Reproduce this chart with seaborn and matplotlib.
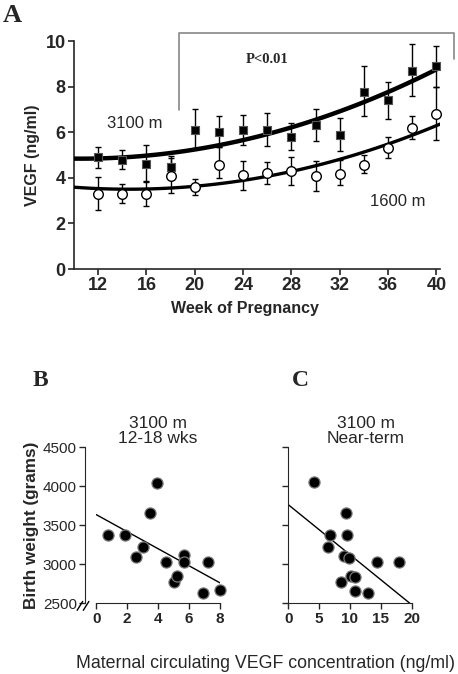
import numpy as np
import pandas as pd
import matplotlib
matplotlib.use("Agg")
import matplotlib.pyplot as plt
import seaborn as sns

sns.set_style("ticks")
plt.rcParams["font.family"] = ["Liberation Sans", "DejaVu Sans"]

# ---------------- data ----------------
weeks = [12, 14, 16, 18, 20, 22, 24, 26, 28, 30, 32, 34, 36, 38, 40]

# 3100 m (filled squares): mean, lower and upper ends of error bars
v3100 = [4.9, 4.78, 4.6, 4.49, 6.1, 6.0, 6.1, 6.1, 5.79, 6.3, 5.88, 7.78, 7.41, 8.67, 8.89]
lo3100 = [4.44, 4.37, 3.8, 4.05, 5.3, 5.37, 5.44, 5.4, 5.22, 5.6, 5.19, 6.71, 6.59, 7.59, 8.0]
hi3100 = [5.37, 5.22, 5.44, 4.95, 7.03, 6.71, 6.75, 6.83, 6.42, 7.0, 6.64, 8.89, 8.22, 9.85, 9.8]

# 1600 m (open circles)
v1600 = [3.27, 3.27, 3.27, 4.09, 3.58, 4.58, 4.11, 4.2, 4.3, 4.09, 4.18, 4.58, 5.29, 6.2, 6.78]
lo1600 = [2.59, 2.88, 2.76, 3.33, 3.25, 4.0, 3.46, 3.71, 3.67, 3.42, 3.67, 4.22, 4.85, 5.69, 5.64]
hi1600 = [4.02, 3.73, 3.85, 4.85, 3.93, 5.37, 4.74, 4.68, 4.93, 4.75, 4.78, 5.0, 5.77, 6.71, 8.0]

# panel B: 3100 m, 12-18 wks
b_vegf = [0.78, 1.85, 2.54, 3.04, 3.47, 3.94, 4.48, 5.02, 5.24, 5.69, 5.69, 6.88, 7.24, 8.0]
b_bw = [3376, 3376, 3090, 3226, 3662, 4047, 3034, 2769, 2855, 3120, 3034, 2637, 3034, 2671]

# panel C: 3100 m, near-term
c_vegf = [4.22, 6.76, 6.49, 9.30, 9.57, 9.08, 9.84, 8.54, 10.1, 10.8, 10.8, 12.86, 14.4, 17.9]
c_bw = [4058, 3371, 3221, 3659, 3371, 3105, 3079, 2770, 2856, 2835, 2663, 2629, 3028, 3028]

dfA = pd.DataFrame({"week": weeks, "v3100": v3100, "v1600": v1600})
dfB = pd.DataFrame({"vegf": b_vegf, "bw": b_bw})
dfC = pd.DataFrame({"vegf": c_vegf, "bw": c_bw})

W, H = 458, 674
fig = plt.figure(figsize=(W / 100, H / 100), dpi=100)


def box(l, t, r, b):
    return [l / W, 1 - b / H, (r - l) / W, (b - t) / H]


serif = ["Liberation Serif", "DejaVu Serif"]

# ---------------- panel A ----------------
axA = fig.add_axes(box(74, 41, 440, 269))
axA.set_xlim(10, 40.3)
axA.set_ylim(0, 10)

sns.regplot(data=dfA, x="week", y="v3100", order=2, ci=None, scatter=False,
            truncate=False, ax=axA, line_kws=dict(color="black", lw=3.2, zorder=3))
sns.regplot(data=dfA, x="week", y="v1600", order=2, ci=None, scatter=False,
            truncate=False, ax=axA, line_kws=dict(color="black", lw=2.4, zorder=3))

e3 = [np.array(v3100) - np.array(lo3100), np.array(hi3100) - np.array(v3100)]
e1 = [np.array(v1600) - np.array(lo1600), np.array(hi1600) - np.array(v1600)]
axA.errorbar(weeks, v3100, yerr=e3, fmt="none", ecolor="black", elinewidth=1.0,
             capsize=2.5, capthick=1.0, zorder=2, clip_on=False)
axA.errorbar(weeks, v1600, yerr=e1, fmt="none", ecolor="black", elinewidth=1.0,
             capsize=2.5, capthick=1.0, zorder=2, clip_on=False)
sns.scatterplot(data=dfA, x="week", y="v3100", marker="s", s=36, color="black",
                edgecolor="#555555", linewidth=0.8, ax=axA, zorder=4, clip_on=False)
sns.scatterplot(data=dfA, x="week", y="v1600", marker="o", s=48, color="white",
                edgecolor="black", linewidth=1.0, ax=axA, zorder=4, clip_on=False)

# significance bracket
axA.plot([18.7, 18.7, 41.5, 41.5], [6.97, 10.35, 10.35, 9.2], color="#888888",
         lw=1.2, clip_on=False, zorder=1)
axA.text(26.0, 9.2, "P<0.01", family=serif, fontweight="bold", fontsize=10.5,
         ha="center", va="center")
axA.text(12.7, 6.4, "3100 m", fontsize=12, ha="left", va="center")
axA.text(34.5, 2.94, "1600 m", fontsize=12, ha="left", va="center")

axA.set_xticks(range(12, 41, 4))
axA.set_yticks(range(0, 11, 2))
axA.tick_params(labelsize=13, length=4, width=1.2, pad=2)
for lab in axA.get_xticklabels() + axA.get_yticklabels():
    lab.set_fontweight("bold")
axA.set_xlabel("Week of Pregnancy", fontsize=11.5, fontweight="bold", labelpad=3)
axA.xaxis.set_label_coords(0.467, -0.14)
axA.set_ylabel("VEGF (ng/ml)", fontsize=11.5, fontweight="bold", labelpad=4)
for s in ["top", "right"]:
    axA.spines[s].set_visible(False)
for s in ["left", "bottom"]:
    axA.spines[s].set_linewidth(1.2)

fig.text(3 / W, 1 - 16 / H, "A", family=serif, fontweight="bold", fontsize=19,
         ha="left", va="center")

# ---------------- panels B and C ----------------
axB = fig.add_axes(box(96.3, 447.3, 220, 603.3))
axC = fig.add_axes(box(288.3, 447.3, 411.7, 603.3))

axB.set_xlim(0, 8)
axC.set_xlim(0, 20)
for ax, d in [(axB, dfB), (axC, dfC)]:
    ax.set_ylim(2500, 4500)
    sns.regplot(data=d, x="vegf", y="bw", ci=None, scatter=False, truncate=False,
                ax=ax, line_kws=dict(color="black", lw=1.0))
    sns.scatterplot(data=d, x="vegf", y="bw", s=64, color="black",
                    edgecolor="#777777", linewidth=0.9, ax=ax, zorder=4, clip_on=False)
    ax.set_yticks(range(2500, 4501, 500))
    ax.tick_params(labelsize=11, length=4, width=1.0, pad=2)
    for lab in ax.get_xticklabels() + ax.get_yticklabels():
        lab.set_fontweight("bold")
    for s in ["top", "right"]:
        ax.spines[s].set_visible(False)
    ax.set_xlabel("")
    ax.set_ylabel("")

axB.set_xticks(range(0, 9, 2))
axC.set_xticks(range(0, 21, 5))
axC.set_yticklabels([])
axB.spines["left"].set_position(("outward", 8))

# axis break marks on panel B
for x0 in [-0.155, -0.105]:
    axB.plot([x0, x0 + 0.045], [-0.045, 0.012], color="black", lw=1.0,
             transform=axB.transAxes, clip_on=False)

axB.set_ylabel("Birth weight (grams)", fontsize=12.3, fontweight="bold", labelpad=3)
axB.set_title("3100 m\n12-18 wks", fontsize=12.5, pad=3, linespacing=1.0)
axC.set_title("3100 m\nNear-term", fontsize=12.5, pad=3, linespacing=1.0, x=0.63)

fig.text(33 / W, 1 - 381 / H, "B", family=serif, fontweight="bold", fontsize=17,
         ha="left", va="center")
fig.text(292 / W, 1 - 381 / H, "C", family=serif, fontweight="bold", fontsize=17,
         ha="left", va="center")
fig.text(266 / W, 1 - 663 / H, "Maternal circulating VEGF concentration (ng/ml)",
         fontsize=12.8, ha="center", va="center")

fig.savefig("out.png", dpi=100)
